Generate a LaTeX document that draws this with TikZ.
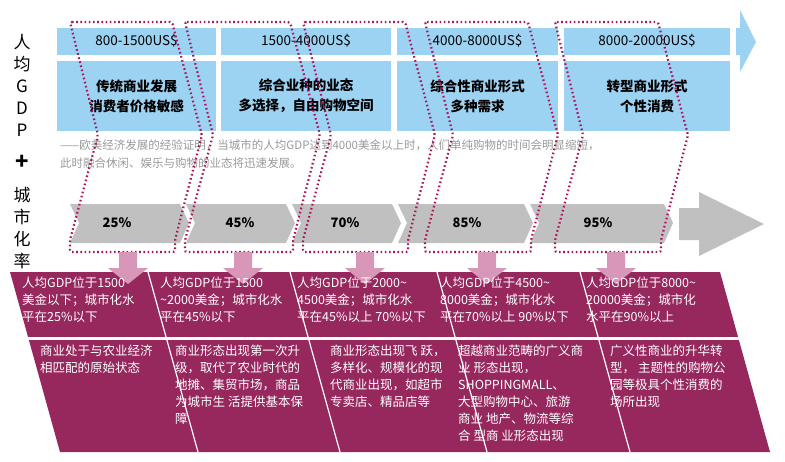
\documentclass[tikz,border=0pt]{standalone}
\usepackage{fontspec}
\setmainfont{Noto Sans CJK SC}
\usetikzlibrary{positioning,calc}
\definecolor{skyblue}{RGB}{156,210,242}
\definecolor{plum}{RGB}{150,40,94}
\definecolor{rosepink}{RGB}{216,150,184}
\definecolor{dotred}{RGB}{170,20,90}
\definecolor{chevgray}{RGB}{192,192,192}
\begin{document}
\begin{tikzpicture}[x=1pt,y=-1pt,
	bluebox/.style={fill=skyblue},
	bluetext/.style={font=\fontsize{13.5}{20}\selectfont\bfseries,align=center},
	chev/.style={fill=chevgray},
	pct/.style={font=\fontsize{13}{15}\selectfont\bfseries},
	dotbox/.style={draw=dotred,line width=2.2pt,dash pattern=on 1.6pt off 2.6pt},
	panel/.style={fill=plum},
	downarrow/.style={fill=rosepink},
	paneltext/.style={text=white,font=\fontsize{12.5}{17}\selectfont,align=left,anchor=north west,inner sep=0pt},
	sidetext/.style={font=\fontsize{17}{22}\selectfont,align=center}]
	\useasboundingbox (0,0) rectangle (785,461);
	% side labels
	\node[sidetext] (gdp) at (22,85) {人\\均\\G\\D\\P};
	\node[sidetext,font=\fontsize{22}{22}\selectfont\bfseries] (plus) at (22,162) {+};
	\node[sidetext] (urb) at (22,228) {城\\市\\化\\率};
	% blue band
	\foreach \xa/\xb/\range/\desc [count=\i] in {57/216/800-1500US\$/{传统商业发展\\消费者价格敏感},
		221/391/1500-4000US\$/{综合业种的业态\\多选择，自由购物空间},
		397/558/4000-8000US\$/{综合性商业形式\\多种需求},
		564/730/8000-20000US\$/{转型商业形式\\个性消费}}{
		\fill[bluebox] (\xa,28) rectangle (\xb,55);
		\fill[bluebox] (\xa,61) rectangle (\xb,131);
		\node[bluetext,font=\fontsize{13.5}{15}\selectfont] (range\i) at ({(\xa+\xb)/2},41) {\range};
		\node[bluetext] (desc\i) at ({(\xa+\xb)/2},96) {\desc};
	}
	\fill[bluebox] (736,28) -- (740,28) -- (740,10) -- (756,42) -- (740,72) -- (740,55) -- (736,55) -- cycle;
	% note
	\node[text=gray!80,font=\fontsize{11.5}{18}\selectfont,align=left,anchor=north west,inner sep=0pt] (note) at (60,140)
		{——欧美经济发展的经验证明，当城市的人均GDP达到4000美金以上时，人们单纯购物的时间会明显缩短，\\此时融合休闲、娱乐与购物的业态将迅速发展。};
	% urbanisation chevrons
	\foreach \xa/\xb/\val/\xt [count=\i] in {70/186/25\%/117,186/292/45\%/240,292/398/70\%/345,398/530/85\%/467,530/670/95\%/598}{
		\fill[chev] (\xa,204) -- (\xb-6,204) -- (\xb+3,223) -- (\xb-6,243) -- (\xa,243) -- (\xa+9,223) -- cycle;
		\node[pct] (pct\i) at (\xt,223) {\val};
	}
	\fill[chev] (679,208) -- (699,208) -- (699,192) -- (764,224) -- (699,256) -- (699,240) -- (679,240) -- cycle;
	% dotted brackets
	\foreach \xa/\xb in {70/172,185/290,303/405,425/528,555/658}{
		\draw[dotbox,rounded corners=2pt] (\xa,22) -- (\xb,22) -- (\xb+30,135) -- (\xb+3,240) -- (\xb+3,252)
			-- (\xa,252) -- (\xa,240) -- (\xa+28,135) -- cycle;
	}
	% maroon panels
	\fill[panel] (10,272) -- (720,272) -- (770,452) -- (60,452) -- cycle;
	\draw[white,line width=3pt] (12,338) -- (760,338);
	\foreach \xl in {148,290,437,580}{
		\draw[white,line width=1.2pt] (\xl,272) -- (\xl+50,452);
	}
	% pink arrows
	\foreach \xc in {128,243,365,487,616}{
		\fill[downarrow] (\xc-9,252) -- (\xc+9,252) -- (\xc+9,268) -- (\xc+20,268) -- (\xc,284)
			-- (\xc-20,268) -- (\xc-9,268) -- cycle;
	}
	\foreach \xl/\txt [count=\i] in {
		22/{人均GDP位于1500\\美金以下；城市化水\\平在25\%以下},
		160/{人均GDP位于1500\\\textasciitilde 2000美金；城市化水\\平在45\%以下},
		297/{人均GDP位于2000\textasciitilde\\4500美金；城市化水\\平在45\%以上 70\%以下},
		440/{人均GDP位于4500\textasciitilde\\8000美金；城市化水\\平在70\%以上 90\%以下},
		586/{人均GDP位于8000\textasciitilde\\20000美金；城市化\\水平在90\%以上}}{
		\node[paneltext] (gdptxt\i) at (\xl,277) {\txt};
	}
	\foreach \xl/\txt [count=\i] in {
		40/{商业处于与农业经济\\相匹配的原始状态},
		175/{商业形态出现第一次升\\级，取代了农业时代的\\地摊、集贸市场，商品\\为城市生 活提供基本保\\障},
		330/{商业形态出现飞 跃，\\多样化、规模化的现\\代商业出现，如超市\\专卖店、精品店等},
		458/{超越商业范畴的广义商\\业 形态出现，\\SHOPPINGMALL、\\大型购物中心、旅游\\商业 地产、物流等综\\合 型商 业形态出现},
		610/{广义性商业的升华转\\型， 主题性的购物公\\园等极具个性消费的\\场所出现}}{
		\node[paneltext] (biztxt\i) at (\xl,345) {\txt};
	}
\end{tikzpicture}
\end{document}
